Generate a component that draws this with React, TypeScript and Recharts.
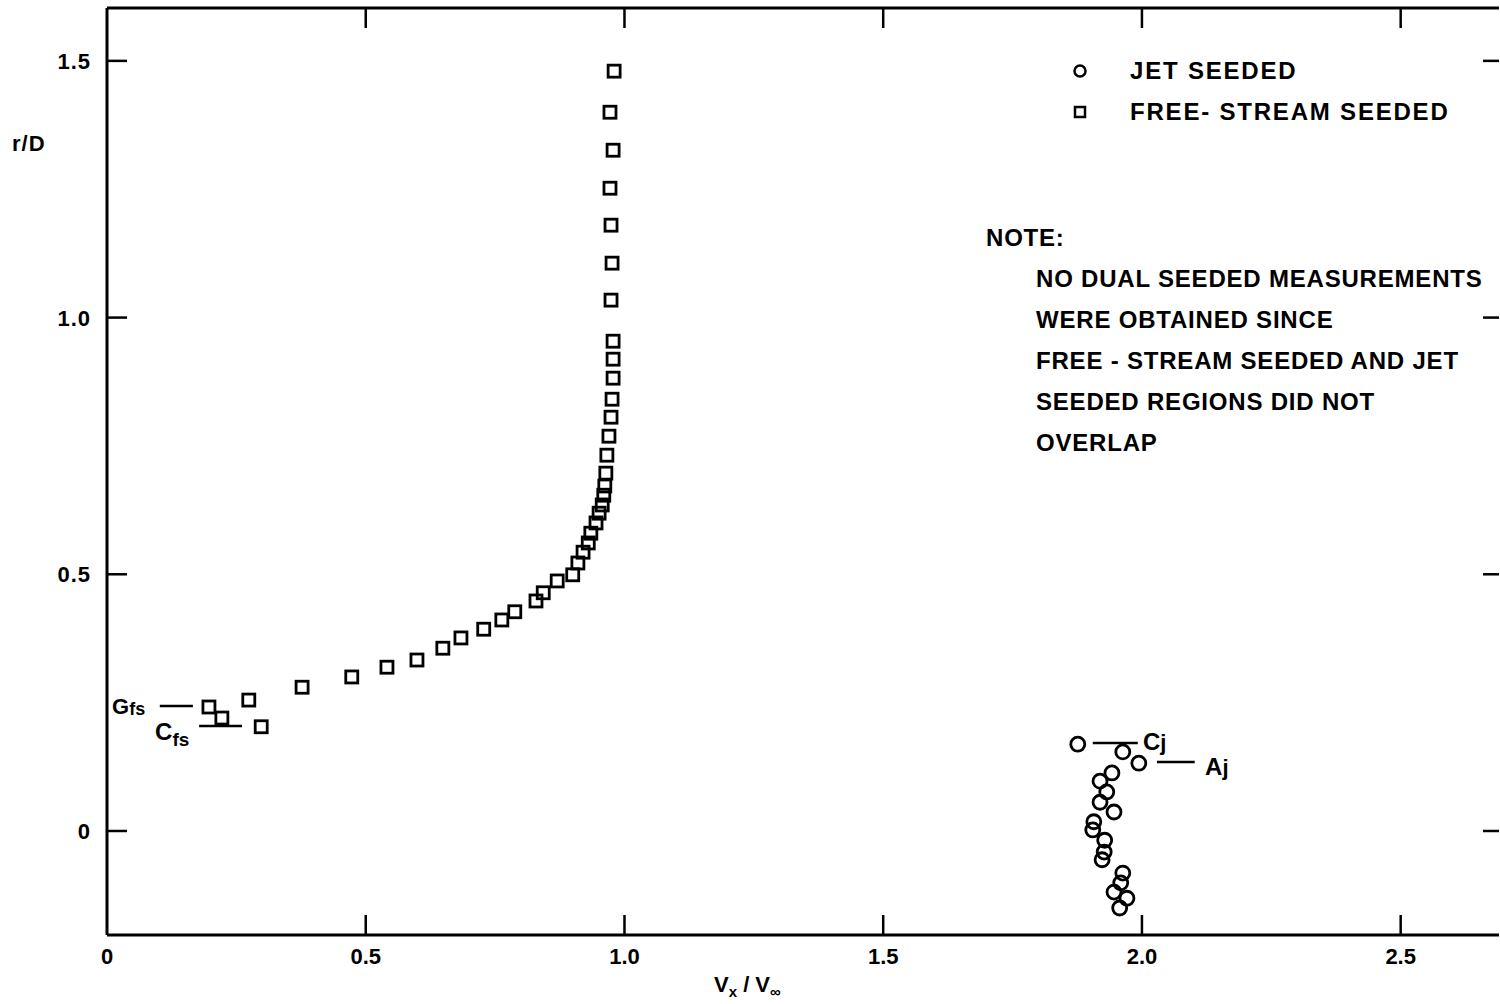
import React from 'react';
import { ScatterChart, Scatter, XAxis, YAxis, ReferenceLine, ReferenceDot, Legend } from 'recharts';

// Free-stream seeded measurements (V_x/V_inf, r/D)
const freeStreamSeeded = [
  { x: 0.197, y: 0.2415 }, { x: 0.222, y: 0.220 }, { x: 0.274, y: 0.255 }, { x: 0.298, y: 0.203 },
  { x: 0.377, y: 0.280 }, { x: 0.473, y: 0.300 }, { x: 0.541, y: 0.319 }, { x: 0.599, y: 0.333 },
  { x: 0.649, y: 0.356 }, { x: 0.684, y: 0.376 }, { x: 0.728, y: 0.393 }, { x: 0.763, y: 0.411 },
  { x: 0.788, y: 0.427 }, { x: 0.829, y: 0.448 }, { x: 0.843, y: 0.464 }, { x: 0.870, y: 0.487 },
  { x: 0.900, y: 0.499 }, { x: 0.910, y: 0.522 }, { x: 0.920, y: 0.543 }, { x: 0.930, y: 0.561 },
  { x: 0.935, y: 0.580 }, { x: 0.945, y: 0.600 }, { x: 0.951, y: 0.619 }, { x: 0.957, y: 0.635 },
  { x: 0.960, y: 0.654 }, { x: 0.962, y: 0.672 }, { x: 0.964, y: 0.697 }, { x: 0.966, y: 0.732 },
  { x: 0.970, y: 0.769 }, { x: 0.974, y: 0.806 }, { x: 0.976, y: 0.841 }, { x: 0.978, y: 0.882 },
  { x: 0.978, y: 0.919 }, { x: 0.978, y: 0.954 }, { x: 0.974, y: 1.034 }, { x: 0.976, y: 1.106 },
  { x: 0.974, y: 1.180 }, { x: 0.972, y: 1.252 }, { x: 0.978, y: 1.326 }, { x: 0.972, y: 1.400 },
  { x: 0.980, y: 1.480 },
];

// Jet seeded measurements
const jetSeeded = [
  { x: 1.876, y: 0.169 }, { x: 1.963, y: 0.154 }, { x: 1.994, y: 0.132 }, { x: 1.942, y: 0.113 },
  { x: 1.919, y: 0.097 }, { x: 1.932, y: 0.076 }, { x: 1.919, y: 0.056 }, { x: 1.946, y: 0.037 },
  { x: 1.907, y: 0.018 }, { x: 1.905, y: 0.002 }, { x: 1.928, y: -0.018 }, { x: 1.927, y: -0.041 },
  { x: 1.923, y: -0.056 }, { x: 1.963, y: -0.082 }, { x: 1.959, y: -0.101 }, { x: 1.946, y: -0.119 },
  { x: 1.971, y: -0.131 }, { x: 1.957, y: -0.150 },
];

const xTicks = [0, 0.5, 1.0, 1.5, 2.0, 2.5];
const xTickLabels = ['0', '0.5', '1.0', '1.5', '2.0', '2.5'];
const yTicks = [0, 0.5, 1.0, 1.5];
const yTickLabels = ['0', '0.5', '1.0', '1.5'];
const xDomain = [0, 2.690];
const yDomain = [-0.2026, 1.603];

const noteLines = [
  'NO DUAL SEEDED MEASUREMENTS',
  'WERE OBTAINED SINCE',
  'FREE - STREAM SEEDED AND JET',
  'SEEDED REGIONS DID NOT',
  'OVERLAP',
];

const FONT = "'Liberation Sans', Arial, sans-serif";
const INK = '#000';

const BottomTick = (props: any) => {
  const { x, y, payload } = props;
  const i = xTicks.indexOf(payload.value);
  return (
    <g>
      {payload.value !== 0 && <line x1={x} x2={x} y1={y} y2={y - 20} stroke={INK} strokeWidth={2.5} />}
      <text x={x} y={y + 29} textAnchor="middle" fontFamily={FONT} fontWeight={700} fontSize={22} fill={INK}>
        {xTickLabels[i]}
      </text>
    </g>
  );
};

const TopTick = (props: any) => {
  const { x, y, payload } = props;
  if (payload.value === 0) return <g />;
  return <line x1={x} x2={x} y1={y} y2={y + 20} stroke={INK} strokeWidth={2.5} />;
};

const LeftTick = (props: any) => {
  const { x, y, payload } = props;
  const i = yTicks.indexOf(payload.value);
  return (
    <g>
      <line x1={x} x2={x + 20} y1={y} y2={y} stroke={INK} strokeWidth={2.5} />
      <text x={x - 16} y={y + 8} textAnchor="end" fontFamily={FONT} fontWeight={700} fontSize={22} fill={INK} letterSpacing={1}>
        {yTickLabels[i]}
      </text>
    </g>
  );
};

const RightTick = (props: any) => {
  const { x, y } = props;
  return <line x1={x} x2={x - 16} y1={y} y2={y} stroke={INK} strokeWidth={2.5} />;
};

const SquareShape = (p: any) => (
  <rect x={p.cx - 6} y={p.cy - 6} width={12} height={12} fill="none" stroke={INK} strokeWidth={2.8} />
);

const CircleShape = (p: any) => (
  <circle cx={p.cx} cy={p.cy} r={7} fill="none" stroke={INK} strokeWidth={2.8} />
);

const subLabel = (main: string, sub: string, mainSize: number, subSize: number, dy: number) => (p: any) => (
  <text x={p.cx} y={p.cy} fontFamily={FONT} fontWeight={700} fill={INK} fontSize={mainSize}>
    {main}
    <tspan fontSize={subSize} dy={dy}>{sub}</tspan>
  </text>
);

const LegendContent = () => (
  <div style={{ fontFamily: FONT, fontWeight: 700, fontSize: 24, letterSpacing: 1.8, color: INK, lineHeight: '41px' }}>
    <div style={{ display: 'flex', alignItems: 'center' }}>
      <svg width={75} height={20} style={{ display: 'block' }}>
        <circle cx={25} cy={10} r={5.5} fill="none" stroke={INK} strokeWidth={2.5} />
      </svg>
      <span>JET SEEDED</span>
    </div>
    <div style={{ display: 'flex', alignItems: 'center' }}>
      <svg width={75} height={20} style={{ display: 'block' }}>
        <rect x={20} y={5} width={10} height={10} fill="none" stroke={INK} strokeWidth={2.5} />
      </svg>
      <span>FREE- STREAM SEEDED</span>
    </div>
  </div>
);

export default function App() {
  return (
    <div style={{ position: 'absolute', left: 0, top: 0, width: 1500, height: 1004, background: '#fff' }}>
      <ScatterChart width={1500} height={1004} margin={{ top: 7, right: 0, bottom: 0, left: 106 }}>
        <XAxis
          xAxisId="b" type="number" dataKey="x" orientation="bottom" domain={xDomain} ticks={xTicks}
          allowDataOverflow height={69} tickSize={0} tickMargin={0} tickLine={false}
          axisLine={{ stroke: INK, strokeWidth: 3 }} tick={<BottomTick />} interval={0}
        />
        <XAxis
          xAxisId="t" type="number" dataKey="x" orientation="top" domain={xDomain} ticks={xTicks}
          allowDataOverflow height={1} tickSize={0} tickMargin={0} tickLine={false}
          axisLine={{ stroke: INK, strokeWidth: 3 }} tick={<TopTick />} interval={0}
        />
        <YAxis
          yAxisId="l" type="number" dataKey="y" orientation="left" domain={yDomain} ticks={yTicks}
          allowDataOverflow width={1} tickSize={0} tickMargin={0} tickLine={false}
          axisLine={{ stroke: INK, strokeWidth: 3 }} tick={<LeftTick />} interval={0}
        />
        <YAxis
          yAxisId="r" type="number" dataKey="y" orientation="right" domain={yDomain} ticks={yTicks}
          allowDataOverflow width={1} tickSize={0} tickMargin={0} tickLine={false}
          axisLine={false} tick={<RightTick />} interval={0}
        />
        <Legend layout="vertical" align="center" verticalAlign="middle" content={<LegendContent />}
          wrapperStyle={{ position: 'absolute', left: 1055, top: 50, width: 445, height: 90 }} />
        <Scatter name="FREE- STREAM SEEDED" data={freeStreamSeeded} xAxisId="b" yAxisId="l"
          shape={SquareShape} isAnimationActive={false} />
        <Scatter name="JET SEEDED" data={jetSeeded} xAxisId="b" yAxisId="l"
          shape={CircleShape} isAnimationActive={false} />

        {/* annotation leaders */}
        <ReferenceLine xAxisId="b" yAxisId="l" segment={[{ x: 0.102, y: 0.2435 }, { x: 0.166, y: 0.2435 }]} stroke={INK} strokeWidth={2.5} />
        <ReferenceLine xAxisId="b" yAxisId="l" segment={[{ x: 0.178, y: 0.2045 }, { x: 0.261, y: 0.2045 }]} stroke={INK} strokeWidth={2.5} />
        <ReferenceLine xAxisId="b" yAxisId="l" segment={[{ x: 1.905, y: 0.1714 }, { x: 1.992, y: 0.1714 }]} stroke={INK} strokeWidth={2.5} />
        <ReferenceLine xAxisId="b" yAxisId="l" segment={[{ x: 2.029, y: 0.1344 }, { x: 2.102, y: 0.1344 }]} stroke={INK} strokeWidth={2.5} />
        <ReferenceDot xAxisId="b" yAxisId="l" x={0.0097} y={0.228} r={0} shape={subLabel('G', 'fs', 22, 18, 1)} />
        <ReferenceDot xAxisId="b" yAxisId="l" x={0.093} y={0.177} r={0} shape={subLabel('C', 'fs', 24, 19, 6)} />
        <ReferenceDot xAxisId="b" yAxisId="l" x={2.002} y={0.158} r={0} shape={subLabel('C', 'j', 24, 22, 0)} />
        <ReferenceDot xAxisId="b" yAxisId="l" x={2.122} y={0.109} r={0} shape={subLabel('A', 'j', 24, 22, 0)} />
      </ScatterChart>

      {/* axis titles */}
      <div style={{ position: 'absolute', left: 12, top: 131, fontFamily: FONT, fontWeight: 700, fontSize: 22, letterSpacing: 1 }}>r/D</div>
      <div style={{ position: 'absolute', left: 714, top: 972, fontFamily: FONT, fontWeight: 700, fontSize: 22, whiteSpace: 'nowrap' }}>
        V<sub style={{ fontSize: 15 }}>x</sub> / V<sub style={{ fontSize: 15 }}>∞</sub>
      </div>

      {/* note */}
      <div style={{ position: 'absolute', left: 986, top: 217, fontFamily: FONT, fontWeight: 700, fontSize: 24, letterSpacing: 0.8, lineHeight: '41px', whiteSpace: 'nowrap' }}>
        <div>NOTE:</div>
        {noteLines.map((l) => (
          <div key={l} style={{ paddingLeft: 50 }}>{l}</div>
        ))}
      </div>
    </div>
  );
}
